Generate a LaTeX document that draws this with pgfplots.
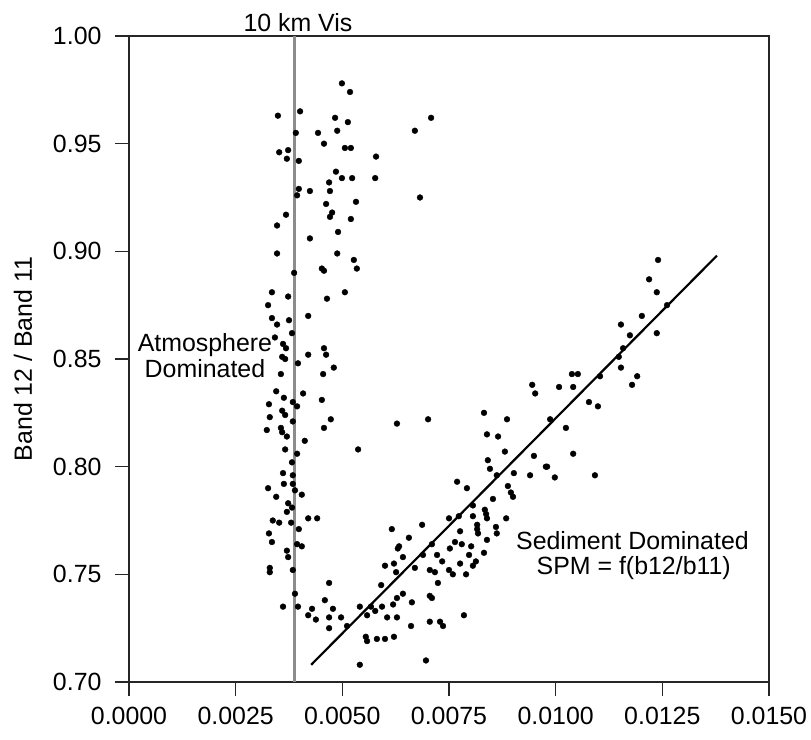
\documentclass[border=0pt]{standalone}
\usepackage{pgfplots}
\pgfplotsset{compat=1.18}
\usepackage{fontspec}
\setmainfont{Liberation Sans}

\pgfplotstableread{
x y
0.00499 0.978
0.00518 0.974
0.00349 0.963
0.00401 0.965
0.00483 0.962
0.00513 0.960
0.00708 0.962
0.00670 0.956
0.00391 0.955
0.00443 0.955
0.00488 0.956
0.00457 0.950
0.00352 0.946
0.00373 0.947
0.00370 0.943
0.00398 0.942
0.00506 0.948
0.00520 0.948
0.00579 0.944
0.00485 0.937
0.00499 0.934
0.00523 0.934
0.00577 0.934
0.00469 0.932
0.00471 0.928
0.00424 0.928
0.00398 0.929
0.00394 0.926
0.00682 0.925
0.00462 0.922
0.00532 0.923
0.00476 0.918
0.00471 0.916
0.00520 0.915
0.00368 0.917
0.00347 0.912
0.00490 0.909
0.00424 0.906
0.00347 0.899
0.00488 0.899
0.00527 0.896
0.00534 0.892
0.00452 0.892
0.00457 0.891
0.00387 0.890
0.00335 0.881
0.00373 0.879
0.00464 0.878
0.00506 0.881
0.00326 0.875
0.00420 0.870
0.00335 0.869
0.00375 0.868
0.00347 0.866
0.00382 0.862
0.00342 0.860
0.00361 0.857
0.00368 0.855
0.00457 0.855
0.00462 0.852
0.00420 0.852
0.00359 0.851
0.00366 0.850
0.00396 0.848
0.00480 0.846
0.00455 0.843
0.00356 0.843
0.00345 0.835
0.00408 0.834
0.00363 0.832
0.00452 0.831
0.00384 0.830
0.00394 0.828
0.00328 0.829
0.00359 0.826
0.00366 0.824
0.00473 0.822
0.00628 0.820
0.00330 0.823
0.00384 0.821
0.00323 0.817
0.00356 0.818
0.00457 0.818
0.00359 0.816
0.00370 0.814
0.00412 0.812
0.00537 0.808
0.00366 0.808
0.00394 0.806
0.00382 0.802
0.00361 0.797
0.00384 0.796
0.00384 0.792
0.00326 0.790
0.00363 0.792
0.00345 0.786
0.00389 0.789
0.00405 0.787
0.00373 0.783
0.00382 0.781
0.00370 0.779
0.00337 0.775
0.00352 0.774
0.00380 0.774
0.00420 0.776
0.00441 0.776
0.00398 0.771
0.00328 0.769
0.00335 0.765
0.00394 0.764
0.00405 0.763
0.00370 0.761
0.00373 0.758
0.00330 0.753
0.00330 0.751
0.00384 0.752
0.00616 0.771
0.00630 0.762
0.00600 0.754
0.00621 0.755
0.00626 0.751
0.00469 0.746
0.00591 0.745
0.00389 0.741
0.00459 0.738
0.00361 0.735
0.00396 0.735
0.00429 0.734
0.00478 0.734
0.00541 0.735
0.00567 0.735
0.00593 0.735
0.00619 0.736
0.00628 0.739
0.00420 0.731
0.00438 0.729
0.00469 0.730
0.00497 0.730
0.00469 0.725
0.00511 0.726
0.00558 0.731
0.00577 0.733
0.00605 0.730
0.00628 0.730
0.00555 0.721
0.00558 0.719
0.00581 0.720
0.00600 0.720
0.00621 0.721
0.00541 0.708
0.00839 0.815
0.00865 0.814
0.00881 0.807
0.00949 0.805
0.00977 0.800
0.00841 0.803
0.00846 0.799
0.00902 0.797
0.00940 0.796
0.00862 0.796
0.00769 0.793
0.00792 0.790
0.00888 0.791
0.00895 0.788
0.00900 0.786
0.00853 0.785
0.00806 0.782
0.00834 0.780
0.00837 0.778
0.00806 0.777
0.00750 0.776
0.00773 0.777
0.00839 0.776
0.00884 0.776
0.00816 0.773
0.00860 0.772
0.00816 0.771
0.00687 0.773
0.00818 0.769
0.00862 0.769
0.00776 0.770
0.00839 0.766
0.00764 0.765
0.00780 0.764
0.00656 0.767
0.00710 0.764
0.00802 0.763
0.00633 0.763
0.00752 0.762
0.00832 0.760
0.00722 0.759
0.00689 0.759
0.00797 0.759
0.00734 0.756
0.00776 0.755
0.00813 0.756
0.00806 0.754
0.00642 0.758
0.00670 0.753
0.00705 0.752
0.00717 0.751
0.00750 0.752
0.00759 0.750
0.00790 0.750
0.00724 0.746
0.00642 0.741
0.00705 0.740
0.00710 0.739
0.00663 0.737
0.00705 0.728
0.00729 0.728
0.00736 0.726
0.00785 0.731
0.00661 0.726
0.00696 0.710
0.00832 0.825
0.00886 0.822
0.00701 0.822
0.01038 0.843
0.01052 0.843
0.01008 0.837
0.01041 0.837
0.01104 0.842
0.01179 0.838
0.01191 0.842
0.01078 0.830
0.01099 0.828
0.00987 0.822
0.01024 0.818
0.01041 0.806
0.00980 0.800
0.00998 0.795
0.01092 0.796
0.00945 0.838
0.00952 0.834
0.01240 0.896
0.01219 0.887
0.01237 0.881
0.01261 0.875
0.01202 0.870
0.01153 0.866
0.01174 0.861
0.01237 0.862
0.01158 0.855
0.01148 0.851
0.01153 0.846
}\pts

\begin{document}
\begin{tikzpicture}
\useasboundingbox (-129bp,-58bp) rectangle (682bp,682bp);
\begin{axis}[
  at={(0,0)}, anchor=south west,
  scale only axis, width=640bp, height=646bp,
  xmin=0, xmax=0.015, ymin=0.70, ymax=1.00,
  xtick={0,0.0025,0.005,0.0075,0.01,0.0125,0.015},
  ytick={0.70,0.75,0.80,0.85,0.90,0.95,1.00},
  xticklabel={\pgfmathprintnumber[fixed,fixed zerofill,precision=4,assume math mode=true]{\tick}},
  yticklabel={\pgfmathprintnumber[fixed,fixed zerofill,precision=2,assume math mode=true]{\tick}},
  scaled x ticks=false, scaled y ticks=false,
  tick align=outside, xtick pos=left, ytick pos=left,
  major tick length=14bp,
  axis line style={line width=1.5bp, black!85},
  every tick/.style={black!85, line width=1.4bp},
  tick label style={font=\fontsize{25}{29}\selectfont},
  xticklabel style={yshift=-8bp},
  yticklabel style={xshift=-10bp},
  every axis y label/.style={at={(axis description cs:0,0.5)}, xshift=-106bp, rotate=90, anchor=center, font=\fontsize{25}{29}\selectfont},
  ylabel={Band 12 / Band 11},
  clip=false,
]
\addplot[color=black!45, line width=2.8bp] coordinates {(0.00387,0.70) (0.00387,1.00)};
\addplot[only marks, mark=*, mark size=2.9bp, black] table {\pts};
\addplot[black, line width=2.2bp] coordinates {(0.00427,0.708) (0.01378,0.898)};
\node[anchor=base, font=\fontsize{25}{29}\selectfont, yshift=4bp] at (axis cs:0.00396,1.00) {10 km Vis};
\node[anchor=base, font=\fontsize{25}{29}\selectfont, inner sep=0.5bp] at (axis cs:0.00178,0.8533) {Atmosphere};
\node[anchor=base, font=\fontsize{25}{29}\selectfont, inner sep=0.5bp] at (axis cs:0.00178,0.8412) {Dominated};
\node[anchor=base, font=\fontsize{25}{29}\selectfont] at (axis cs:0.01180,0.7613) {Sediment Dominated};
\node[anchor=base, font=\fontsize{25}{29}\selectfont] at (axis cs:0.01183,0.7497) {SPM = f(b12/b11)};
\end{axis}
\end{tikzpicture}
\end{document}
